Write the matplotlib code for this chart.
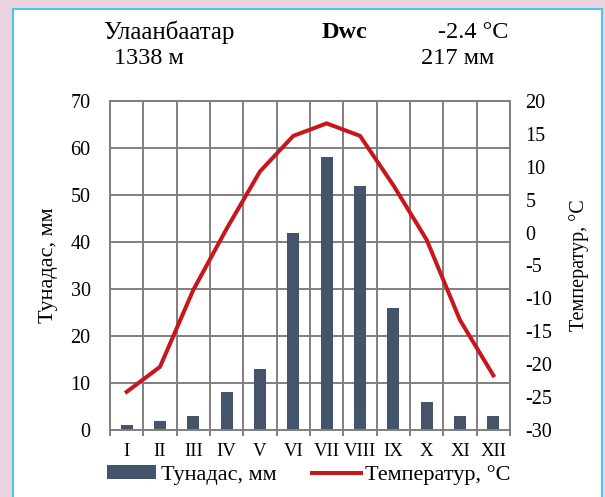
import numpy as np
import matplotlib
matplotlib.use("Agg")
import matplotlib.pyplot as plt
from matplotlib.patches import Rectangle, Patch
from matplotlib.lines import Line2D

# -----------------------
# Data (Ulaanbaatar climate)
# -----------------------
months = ["I", "II", "III", "IV", "V", "VI", "VII", "VIII", "IX", "X", "XI", "XII"]
precip_mm = [1, 2, 3, 8, 13, 42, 58, 52, 26, 6, 3, 3]
temp_c = [-24.2, -20.4, -8.7, 0.6, 9.3, 14.7, 16.6, 14.7, 7.2, -1.1, -13.3, -21.7]

station = "Улаанбаатар"
koppen = "Dwc"
elevation = "1338 м"
mean_temp = "-2.4 °C"
total_precip = "217 мм"

BAR_COLOR = "#44546a"
LINE_COLOR = "#c8161d"
GRID_COLOR = "#7f7f7f"

plt.rcParams["font.family"] = ["Liberation Serif", "DejaVu Serif"]
plt.rcParams["axes.unicode_minus"] = False

W, H = 605, 497
fig = plt.figure(figsize=(W / 100, H / 100), dpi=100)
fig.patch.set_facecolor("#ecd3de")

# white card with light blue border
card = Rectangle((13 / W, -0.05), (602 - 13) / W, (H - 9) / H + 0.05,
                 transform=fig.transFigure, facecolor="white",
                 edgecolor="#4ec3ee", linewidth=1.5, zorder=-10)
fig.patches.append(card)

left, right, top, bottom = 110, 510, 101, 430
ax = fig.add_axes([left / W, (H - bottom) / H, (right - left) / W, (bottom - top) / H])
ax.set_facecolor("none")

x = np.arange(1, len(months) + 1)
ax.bar(x, precip_mm, width=0.36, color=BAR_COLOR, zorder=2)
ax.set_xlim(0.5, 12.5)
ax.set_ylim(0, 70)
ax.set_yticks(np.arange(0, 71, 10))
ax.set_xticks(x)
ax.set_xticklabels(months, fontsize=13.5)
ax.set_xticks(np.arange(0.5, 13, 1), minor=True)
ax.tick_params(axis="x", which="major", length=0, pad=9)
ax.tick_params(axis="x", which="minor", length=4, width=1.4, color=GRID_COLOR, direction="out")
ax.tick_params(axis="y", length=0, pad=14, labelsize=14.5)
ax.grid(True, axis="y", color=GRID_COLOR, linewidth=1.4)
ax.grid(True, axis="x", which="minor", color=GRID_COLOR, linewidth=1.4)
ax.set_axisbelow(True)
for s in ax.spines.values():
    s.set_color(GRID_COLOR)
    s.set_linewidth(1.4)
ax.set_ylabel("Тунадас, мм", fontsize=16, labelpad=9)

ax2 = ax.twinx()
ax2.plot(x, temp_c, color=LINE_COLOR, linewidth=2.9, zorder=3)
ax2.set_ylim(-30, 20)
ax2.set_yticks(np.arange(-30, 21, 5))
ax2.tick_params(axis="y", length=0, pad=11, labelsize=14.5)
for s in ax2.spines.values():
    s.set_visible(False)
ax2.set_ylabel("Температур, °C", fontsize=14.5, rotation=90, labelpad=12)

# header text
fig.text(103 / W, 1 - 32 / H, station, fontsize=18, ha="left", va="center")
fig.text(344 / W, 1 - 32 / H, koppen, fontsize=17.5, fontweight="bold", ha="center", va="center")
fig.text(508 / W, 1 - 32 / H, mean_temp, fontsize=17.5, ha="right", va="center")
fig.text(114 / W, 1 - 59 / H, elevation, fontsize=17.5, ha="left", va="center")
fig.text(494 / W, 1 - 59 / H, total_precip, fontsize=17.5, ha="right", va="center")

handles = [Patch(facecolor=BAR_COLOR, edgecolor="none"),
           Line2D([0], [0], color=LINE_COLOR, linewidth=2.9)]
fig.legend(handles, ["Тунадас, мм", "Температур, °C"], loc="center",
           bbox_to_anchor=(309 / W, 1 - 475 / H), ncol=2, frameon=False,
           fontsize=16, handlelength=2.2, handleheight=0.6, handletextpad=0.2,
           columnspacing=1.6)

fig.savefig("out.png", dpi=100, facecolor=fig.get_facecolor())
